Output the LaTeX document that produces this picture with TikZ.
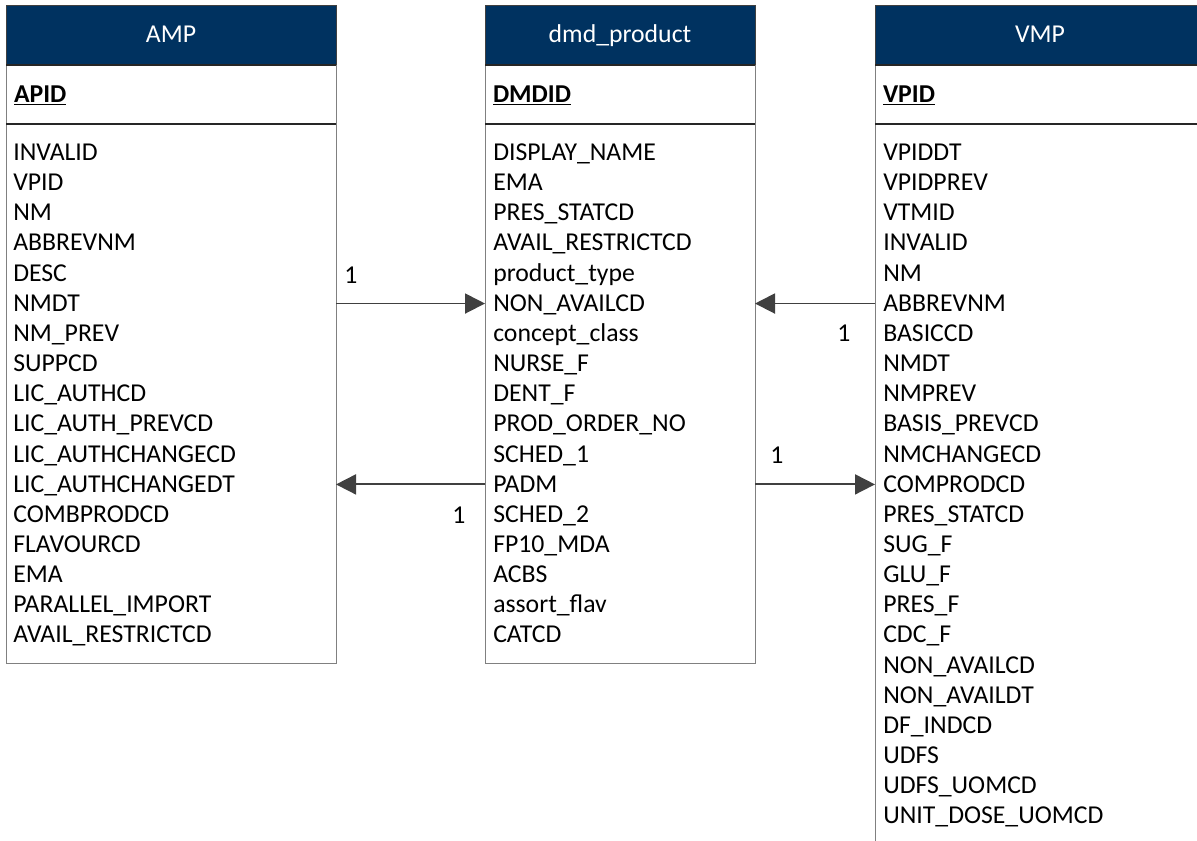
\documentclass[tikz,border=0pt]{standalone}
\usepackage{fontspec}
\setmainfont{Carlito}
\usetikzlibrary{arrows.meta, positioning}
\definecolor{headblue}{RGB}{0,50,96}
\definecolor{boxgray}{RGB}{128,128,128}
\definecolor{linkgray}{RGB}{64,64,64}
\newcommand{\tabfont}{\fontsize{19.3pt}{22pt}\selectfont}

\begin{document}
\begin{tikzpicture}[
  x = 0.75pt, y = -0.75pt,
  head/.style = {
    shape = rectangle,
    draw = black!75,
    fill = headblue,
    text = white,
    font = \tabfont,
    minimum height = 45pt,
    text height = 11.6pt,
    text depth = 0pt,
    inner sep = 0pt,
    outer sep = 0pt,
  },
  keybox/.style = {
    shape = rectangle,
    draw = boxgray,
    font = \tabfont\bfseries,
    minimum height = 44.25pt,
    align = left,
    text height = 11.6pt,
    text depth = 0pt,
    inner xsep = 6pt,
    inner ysep = 0pt,
    outer sep = 0pt,
  },
  body/.style = {
    shape = rectangle,
    draw = boxgray,
    inner sep = 0pt,
    outer sep = 0pt,
  },
  field/.style = {
    font = \tabfont,
    anchor = base west,
    text height = 11.6pt,
    text depth = 0pt,
    inner sep = 0pt,
  },
  sepline/.style = {
    draw = black!85,
    line width = 1.1pt,
  }
]
  \useasboundingbox (0, 0) rectangle (1197, 840);
  \clip (0, 0) rectangle (1197, 840);

  \node[head, minimum width = 247.5pt] (amp-head) at (171, 35) {AMP};
  \node[keybox, text width = 235.5pt, below = 0pt of amp-head] (amp-key) {\underline{APID}};
  \node[body, minimum width = 247.5pt, minimum height = 404.25pt, below = 0pt of amp-key] (amp-body) {};

  \node[head, minimum width = 202.5pt] (dmd-head) at (620, 35) {dmd\_product};
  \node[keybox, text width = 190.5pt, below = 0pt of dmd-head] (dmd-key) {\underline{DMDID}};
  \node[body, minimum width = 202.5pt, minimum height = 404.25pt, below = 0pt of dmd-key] (dmd-body) {};

  \node[head, minimum width = 247.5pt] (vmp-head) at (1040, 35) {VMP};
  \node[keybox, text width = 235.5pt, below = 0pt of vmp-head] (vmp-key) {\underline{VPID}};
  \node[body, minimum width = 247.5pt, minimum height = 570pt, below = 0pt of vmp-key] (vmp-body) {};

  \foreach \t in {amp, dmd, vmp} {
    \draw[sepline] (\t-key.north west) -- (\t-key.north east);
    \draw[sepline] (\t-body.north west) -- (\t-body.north east);
  }

  \foreach \f [count = \i] in {INVALID, VPID, NM, ABBREVNM, DESC, NMDT, NM\_PREV,
      SUPPCD, LIC\_AUTHCD, LIC\_AUTH\_PREVCD, LIC\_AUTHCHANGECD, LIC\_AUTHCHANGEDT,
      COMBPRODCD, FLAVOURCD, EMA, PARALLEL\_IMPORT, AVAIL\_RESTRICTCD}
    \node[field] (amp-\i) at (13, {160.5 + 30.15*(\i - 1)}) {\f};

  \foreach \f [count = \i] in {DISPLAY\_NAME, EMA, PRES\_STATCD, AVAIL\_RESTRICTCD,
      product\_type, NON\_AVAILCD, concept\_class, NURSE\_F, DENT\_F,
      PROD\_ORDER\_NO, SCHED\_1, PADM, SCHED\_2, FP10\_MDA, ACBS,
      assort\_flav, CATCD}
    \node[field] (dmd-\i) at (493, {160.5 + 30.15*(\i - 1)}) {\f};

  \foreach \f [count = \i] in {VPIDDT, VPIDPREV, VTMID, INVALID, NM, ABBREVNM,
      BASICCD, NMDT, NMPREV, BASIS\_PREVCD, NMCHANGECD, COMPRODCD, PRES\_STATCD,
      SUG\_F, GLU\_F, PRES\_F, CDC\_F, NON\_AVAILCD, NON\_AVAILDT, DF\_INDCD,
      UDFS, UDFS\_UOMCD, UNIT\_DOSE\_UOMCD}
    \node[field] (vmp-\i) at (883, {160.5 + 30.15*(\i - 1)}) {\f};

  \begin{scope}[
    every path/.style = {draw = linkgray, line width = 1.4pt, -{Triangle[length = 15pt, width = 15pt]}},
    every node/.style = {font = \tabfont, text height = 11.6pt, text depth = 0pt, inner sep = 0pt}
  ]
    \draw (amp-body.east |- dmd-6.west) -- (dmd-body.west |- dmd-6.west)
      node[pos = 0, xshift = 11.25pt, yshift = 21pt] (card-a) {1};
    \draw (dmd-body.west |- dmd-12.west) -- (amp-body.east |- dmd-12.west)
      node[pos = 0, xshift = -19.5pt, yshift = -23.25pt] (card-b) {1};
    \draw (vmp-body.west |- vmp-6.west) -- (dmd-body.east |- vmp-6.west)
      node[pos = 0, xshift = -23.25pt, yshift = -22.5pt] (card-c) {1};
    \draw (dmd-body.east |- vmp-12.west) -- (vmp-body.west |- vmp-12.west)
      node[pos = 0, xshift = 16.5pt, yshift = 21.75pt] (card-d) {1};
  \end{scope}
\end{tikzpicture}
\end{document}
